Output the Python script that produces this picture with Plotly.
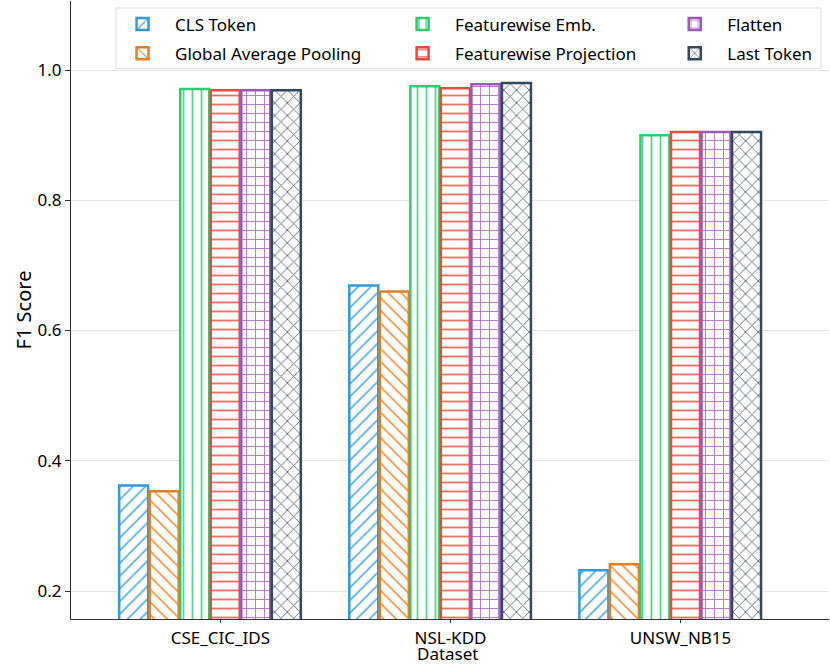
import plotly.graph_objects as go

datasets = ["CSE_CIC_IDS", "NSL-KDD", "UNSW_NB15"]
methods = ["CLS Token", "Global Average Pooling", "Featurewise Emb.",
           "Featurewise Projection", "Flatten", "Last Token"]
cls_token = [0.362, 0.669, 0.232]
global_avg_pool = [0.353, 0.660, 0.241]
featurewise_emb = [0.971, 0.975, 0.900]
featurewise_proj = [0.969, 0.972, 0.905]
flatten = [0.969, 0.978, 0.905]
last_token = [0.969, 0.980, 0.905]
scores = [cls_token, global_avg_pool, featurewise_emb,
          featurewise_proj, flatten, last_token]

colors = ["#3498db", "#e67e22", "#2ecc71", "#e74c3c", "#9b59b6", "#34495e"]
hatches = ["/", "\\", "|", "-", "+", "x"]
# matplotlib-style legend: 3 columns of 2 entries -> one plotly legend per column
legend_ids = ["legend", "legend", "legend2", "legend2", "legend3", "legend3"]

xpos = list(range(len(datasets)))

fig = go.Figure()
for i in range(len(methods)):
    fig.add_trace(go.Bar(
        x=xpos, y=scores[i], name=methods[i],
        legend=legend_ids[i], legendgroup=methods[i],
        marker=dict(color="white",
                    line=dict(color=colors[i], width=2.5),
                    pattern=dict(shape=hatches[i], fgcolor=colors[i], bgcolor="white",
                                 fgopacity=0.8, size=9, solidity=0.2)),
    ))

leg_style = dict(orientation="v", y=0.991, xanchor="left", yanchor="top",
                 bgcolor="rgba(0,0,0,0)", borderwidth=0, itemwidth=55,
                 font=dict(size=17), tracegroupgap=4)

fig.update_layout(
    width=830, height=664,
    margin=dict(l=71, r=1, t=1, b=45),
    plot_bgcolor="white", paper_bgcolor="white",
    font=dict(family="Noto Sans", size=17, color="black"),
    barmode="group", bargap=0.204, bargroupgap=0.05,
    showlegend=True,
    legend=dict(x=0.0515, **leg_style),
    legend2=dict(x=0.421, **leg_style),
    legend3=dict(x=0.78, **leg_style),
)
# legend frame around the three columns
fig.add_shape(type="rect", xref="paper", yref="paper", x0=0.0594, x1=0.9894, y0=0.891, y1=0.9887,
              line=dict(color="#dddddd", width=1), layer="above")

# x title as annotation so it sits a little lower, like the original
fig.add_annotation(text="Dataset", xref="paper", yref="paper", x=0.497, y=0,
                   xanchor="center", yanchor="top", yshift=-21, showarrow=False,
                   font=dict(family="Noto Sans", size=17, color="black"))

# ticks in the original sit slightly right of the group centres
fig.update_xaxes(range=[-0.604, 2.69],
                 tickvals=[p + 0.045 for p in xpos], ticktext=datasets,
                 showline=True, linecolor="#333333", linewidth=1.2, ticks="outside",
                 ticklen=3, tickcolor="#333333", showgrid=False, zeroline=False,
                 automargin=False)
fig.update_yaxes(title=dict(text="F1 Score", standoff=0), range=[0.157, 1.106],
                 tickvals=[0.2, 0.4, 0.6, 0.8, 1.0], ticktext=["0.2", "0.4", "0.6", "0.8", "1.0"],
                 showline=True, linecolor="#333333", linewidth=1.2, ticks="outside",
                 ticklen=5, tickcolor="#333333", showgrid=True, gridcolor="#e5e5e5",
                 zeroline=False, automargin=False)

fig.write_html("out.html", config={"displayModeBar": False},
               post_script="document.body.style.margin='0';")
